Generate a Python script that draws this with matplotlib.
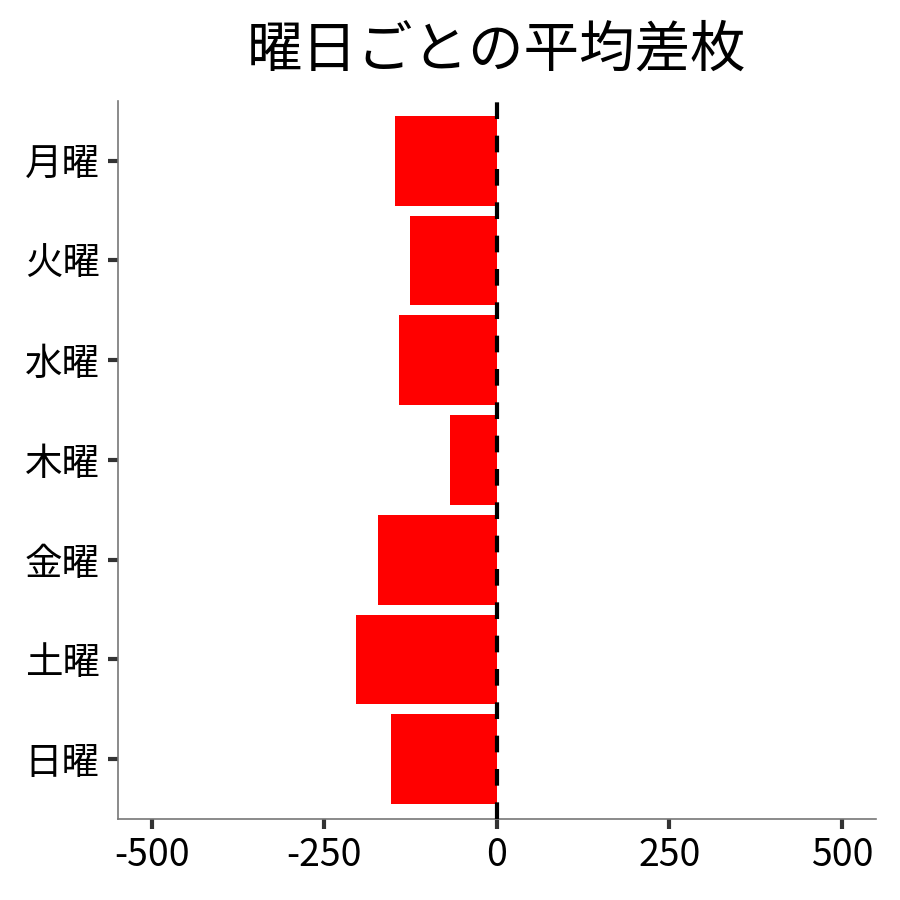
import matplotlib
matplotlib.use('Agg')
import matplotlib.pyplot as plt

plt.rcParams['font.family'] = ['Noto Sans CJK JP', 'DejaVu Sans']

days = ['月曜', '火曜', '水曜', '木曜', '金曜', '土曜', '日曜']
avg_diff = [-148, -126, -142, -68, -172, -204, -154]
xticks = [-500, -250, 0, 250, 500]

fig = plt.figure(figsize=(9, 9), dpi=100)
ax = fig.add_axes([0.131, 0.09, 0.842, 0.798])

ypos = list(range(len(days)))
ax.barh(ypos, avg_diff, height=0.9, color='#ff0000', zorder=2)
ax.axvline(0, color='black', linestyle=(0, (4, 4)), linewidth=3, zorder=3)

ax.set_xlim(-549, 549)
ax.set_ylim(len(days) - 0.4, -0.6)
ax.set_yticks(ypos)
ax.set_yticklabels(days, fontsize=27)
ax.set_xticks(xticks)
ax.set_xticklabels([str(v) for v in xticks], fontsize=27)
ax.tick_params(axis='both', length=7, width=3, color='#333333', pad=5)
ax.tick_params(axis='y', pad=6)

for side in ['top', 'right']:
    ax.spines[side].set_visible(False)
for side in ['left', 'bottom']:
    ax.spines[side].set_color('#777777')
    ax.spines[side].set_linewidth(1.2)

ax.set_title('曜日ごとの平均差枚', fontsize=40, pad=25)

fig.savefig('out.png', dpi=100)
